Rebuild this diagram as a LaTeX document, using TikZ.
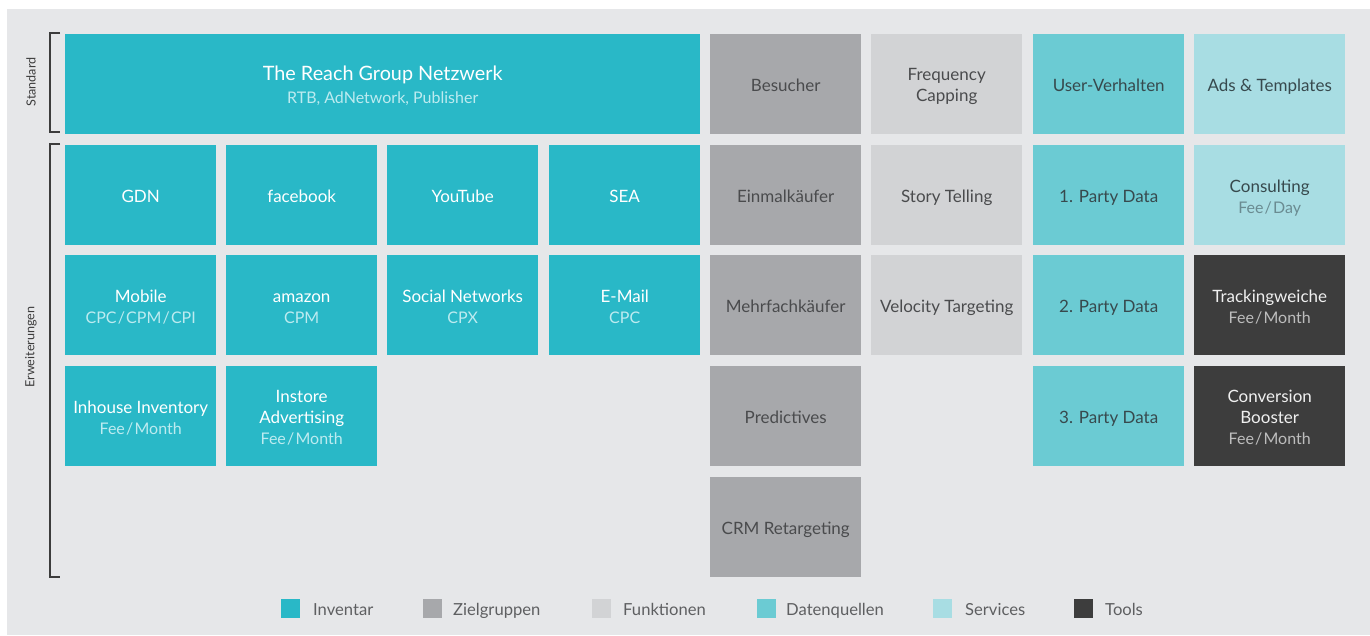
\documentclass[tikz,border=0pt]{standalone}
\usepackage{fontspec}
\setmainfont{Lato}
\definecolor{bg}{HTML}{E6E7E9}
\definecolor{inv}{HTML}{29B8C7}
\definecolor{ziel}{HTML}{A7A8AB}
\definecolor{funk}{HTML}{D2D3D5}
\definecolor{daten}{HTML}{6BCBD3}
\definecolor{serv}{HTML}{A8DDE3}
\definecolor{tool}{HTML}{3D3D3D}
\definecolor{invsub}{HTML}{BDEBF0}
\definecolor{darktxt}{HTML}{4A4B4D}
\definecolor{datentxt}{HTML}{37494D}
\definecolor{servsub}{HTML}{6A8B91}
\definecolor{toolsub}{HTML}{BDBDBD}
\definecolor{brk}{HTML}{3C3C3C}
\definecolor{legtxt}{HTML}{5E5F61}
\tikzset{
  x=1pt, y=-1pt,
  tile/.style={minimum width=151pt, minimum height=100pt, inner sep=0pt,
    align=center, font=\fontsize{17}{21}\selectfont, anchor=north west,
    text height=19pt, text depth=5pt},
  % fixed text box heights keep the lines of two- and three-line tiles in place
  two/.style={text height=41pt},
  three/.style={text height=62pt},
  tinv/.style={tile, fill=inv, text=white},
  tziel/.style={tile, fill=ziel, text=darktxt},
  tfunk/.style={tile, fill=funk, text=darktxt},
  tdaten/.style={tile, fill=daten, text=datentxt},
  tserv/.style={tile, fill=serv, text=datentxt},
  ttool/.style={tile, fill=tool, text=white!94!black},
  bracket/.style={draw=brk, line width=1.3pt},
  sidelabel/.style={rotate=90, font=\fontsize{12.6}{14}\selectfont, text=brk},
  legbox/.style={minimum width=19pt, minimum height=19pt, inner sep=0pt},
  legtext/.style={anchor=base west, font=\fontsize{16.6}{19}\selectfont, text=legtxt, inner sep=0pt},
}
\newcommand{\slsep}{\kern1.2pt/\kern1.2pt}
\newcommand{\subinv}[1]{{\fontsize{16}{21}\selectfont\textcolor{invsub}{#1}}}
\newcommand{\subserv}[1]{{\fontsize{16}{21}\selectfont\textcolor{servsub}{#1}}}
\newcommand{\subtool}[1]{{\fontsize{16}{21}\selectfont\textcolor{toolsub}{#1}}}
\begin{document}
\begin{tikzpicture}
\useasboundingbox (0,0) rectangle (1370,635);
\fill[bg] (7,9) rectangle (1370,635);

% side brackets
\coordinate (sA) at (60,33);
\coordinate (sB) at (60,132);
\coordinate (eA) at (60,144);
\coordinate (eB) at (60,577);
\draw[bracket] (sA) -- ++(-10,0) |- (sB);
\draw[bracket] (eA) -- ++(-10,0) |- (eB);
\node[sidelabel] (lstd) at (31,82) {Standard};
\node[sidelabel] (lerw) at (31,347) {Erweiterungen};

% standard row
\node[tinv, minimum width=635pt, font=\fontsize{19.8}{23}\selectfont,
      text height=44pt] (reach) at (65,34)
  {The Reach Group Netzwerk\\\subinv{RTB, AdNetwork, Publisher}};
\node[tziel] (besucher) at (710,34) {Besucher};
\node[tfunk, two, text height=39pt] (freq) at (871,34) {Frequency\\Capping};
\node[tdaten] (userv) at (1033,34) {User-Verhalten};
\node[tserv] (ads) at (1194,34) {Ads \& Templates};

% row 2
\node[tinv] (gdn) at (65,145) {GDN};
\node[tinv] (fb) at (226,145) {facebook};
\node[tinv] (yt) at (387,145) {YouTube};
\node[tinv] (sea) at (549,145) {SEA};
\node[tziel] (einmal) at (710,145) {Einmalkäufer};
\node[tfunk] (story) at (871,145) {Story Telling};
\node[tdaten] (pd1) at (1033,145) {1. Party Data};
\node[tserv, two] (consult) at (1194,145) {Consulting\\\subserv{Fee\slsep Day}};

% row 3
\node[tinv, two] (mobile) at (65,255) {Mobile\\\subinv{CPC\slsep CPM\slsep CPI}};
\node[tinv, two] (amazon) at (226,255) {amazon\\\subinv{CPM}};
\node[tinv, two] (social) at (387,255) {Social Networks\\\subinv{CPX}};
\node[tinv, two] (email) at (549,255) {E-Mail\\\subinv{CPC}};
\node[tziel] (mehrfach) at (710,255) {Mehrfachkäufer};
\node[tfunk] (velo) at (871,255) {Velocity Targeting};
\node[tdaten] (pd2) at (1033,255) {2. Party Data};
\node[ttool, two] (track) at (1194,255) {Trackingweiche\\\subtool{Fee\slsep Month}};

% row 4
\node[tinv, two] (inhouse) at (65,366) {Inhouse Inventory\\\subinv{Fee\slsep Month}};
\node[tinv, three] (instore) at (226,366) {Instore\\Advertising\\\subinv{Fee\slsep Month}};
\node[tziel] (pred) at (710,366) {Predictives};
\node[tdaten] (pd3) at (1033,366) {3. Party Data};
\node[ttool, three] (conv) at (1194,366) {Conversion\\Booster\\\subtool{Fee\slsep Month}};

% row 5
\node[tziel] (crm) at (710,477) {CRM Retargeting};

% legend
\node[legbox, fill=inv] (k1) at (290.5,608.5) {};
\node[legtext] (t1) at (313,615.5) {Inventar};
\node[legbox, fill=ziel] (k2) at (432.5,608.5) {};
\node[legtext] (t2) at (453,615.5) {Zielgruppen};
\node[legbox, fill=funk] (k3) at (601.5,608.5) {};
\node[legtext] (t3) at (623,615.5) {Funktionen};
\node[legbox, fill=daten] (k4) at (766,608.5) {};
\node[legtext] (t4) at (786,615.5) {Datenquellen};
\node[legbox, fill=serv] (k5) at (942.5,608.5) {};
\node[legtext] (t5) at (965,615.5) {Services};
\node[legbox, fill=tool] (k6) at (1083.5,608.5) {};
\node[legtext] (t6) at (1105,615.5) {Tools};
\end{tikzpicture}
\end{document}
